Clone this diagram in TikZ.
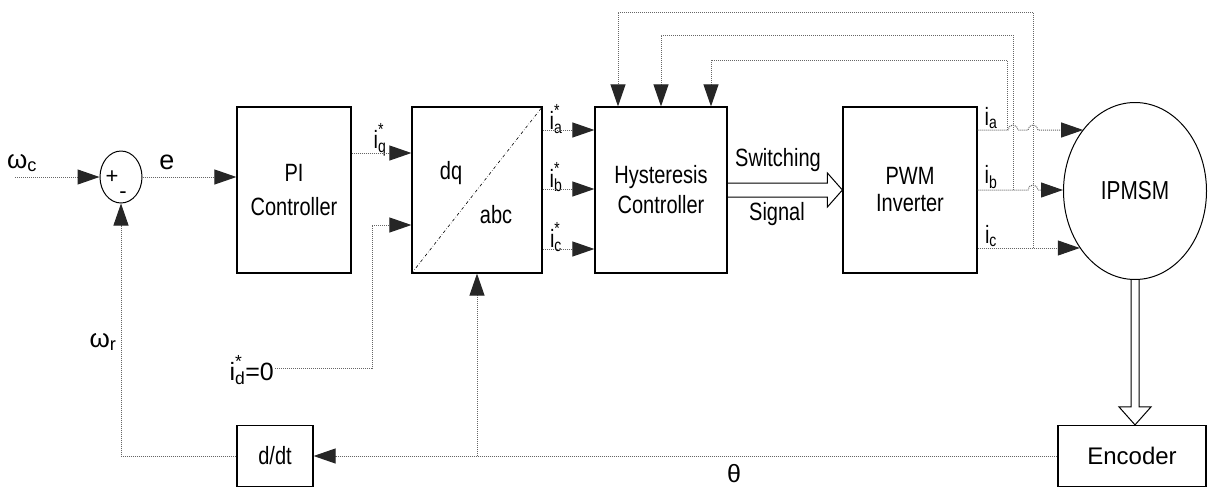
\documentclass[tikz,border=0pt]{standalone}
\usepackage{fontspec}
\setmainfont{Liberation Sans}
\newfontfamily\nar[FakeStretch=0.8]{Liberation Sans}
\usetikzlibrary{arrows.meta,shapes.geometric,calc}
\newcommand{\istar}[1]{i\rlap{\raisebox{4pt}{\textsuperscript{*}}}\textsubscript{#1}}
\begin{document}
\begin{tikzpicture}[x=1pt,y=-1pt,
  box/.style={draw,line width=1.2pt,align=center,inner sep=0pt},
  conn/.style={draw=black!60,line width=1pt,densely dotted,
    -{Triangle[length=22pt,width=15pt,color=black!85]}},
  lbl/.style={font=\fontsize{25}{28}\selectfont,inner sep=1pt},
  nlbl/.style={font=\nar\fontsize{25}{28}\selectfont,inner sep=1pt},
  hollow/.style={draw=black,line width=1pt,line join=miter}]
\useasboundingbox (0,0) rectangle (1208,488);

% blocks
\node[draw,ellipse,line width=1pt,minimum width=42pt,minimum height=52pt] (sum) at (121,177) {};
\node[font=\fontsize{22}{24}\selectfont,inner sep=0pt] (plus) at (112,177) {+};
\node[font=\fontsize{22}{24}\selectfont,inner sep=0pt] (minus) at (123,195) {-};
\node[box,minimum width=114pt,minimum height=166pt,font=\nar\fontsize{25}{34}\selectfont] (pi) at (294,190) {PI\\Controller};
\node[box,minimum width=130pt,minimum height=166pt] (dq) at (477,190) {};
\node[nlbl] (tdq) at (451,173) {dq};
\node[nlbl] (tabc) at (496,215) {abc};
\node[box,minimum width=132pt,minimum height=166pt,font=\nar\fontsize{25}{30}\selectfont] (hyst) at (661,190) {Hysteresis\\Controller};
\node[box,minimum width=134pt,minimum height=166pt,font=\nar\fontsize{25}{27}\selectfont] (pwm) at (910,190) {PWM\\Inverter};
\node[draw,ellipse,line width=1pt,minimum width=143pt,minimum height=177pt,inner sep=0pt,font=\nar\fontsize{26}{28}\selectfont] (motor) at (1135,191) {IPMSM};
\node[box,minimum width=148pt,minimum height=61pt,font=\fontsize{24}{28}\selectfont] (enc) at (1132,456) {Encoder};
\node[box,minimum width=76pt,minimum height=61pt,font=\nar\fontsize{25}{28}\selectfont] (ddt) at (275,456) {d/dt};

\draw[dash dot,line width=0.6pt] (dq.south west) -- (dq.north east);

% labels
\node[lbl,font=\fontsize{26}{28}\selectfont] (lwc) at (22,163) {ω\textsubscript{c}};
\node[lbl,font=\fontsize{27}{28}\selectfont] (le) at (167,162) {e};
\node[nlbl] (liq) at (380,140) {\istar{q}};
\node[nlbl] (lia) at (556,119) {\istar{a}};
\node[nlbl] (lib) at (556,177) {\istar{b}};
\node[nlbl] (lic) at (556,237) {\istar{c}};
\node[nlbl] (la) at (991,118) {i\textsubscript{a}};
\node[nlbl] (lb) at (991,177) {i\textsubscript{b}};
\node[nlbl] (lc) at (991,236) {i\textsubscript{c}};
\node[lbl,font=\fontsize{26}{28}\selectfont] (lwr) at (103,342) {ω\textsubscript{r}};
\node[lbl,anchor=east] (idl) at (275,370) {\istar{d}=0};
\node[lbl] (lth) at (734,474) {θ};
\node[nlbl] (lsw) at (778,160) {Switching};
\node[nlbl] (lsg) at (777,214) {Signal};

% connectors
\coordinate (win) at (15,177);
\draw[conn] (win) -- (sum.west);
\draw[conn] (sum.east) -- (sum.east -| pi.west);
\draw[conn] (pi.east |- 0,153) -- (dq.west |- 0,153);
\draw[conn] (idl.east |- 0,368) -| (372,225) -- (dq.west |- 0,225);
\foreach \yy in {130,189,249} \draw[conn] (dq.east |- 0,\yy) -- (hyst.west |- 0,\yy);

\draw[conn] (pwm.east |- 0,130) -- (1008,130) arc[start angle=180,end angle=0,radius=5pt]
  -- (1028,130) arc[start angle=180,end angle=0,radius=5pt] -- (motor.130 |- 0,130);
\draw[conn] (pwm.east |- 0,190) -- (1028,190) arc[start angle=180,end angle=0,radius=5pt]
  -- (motor.west |- 0,190);
\draw[conn] (pwm.east |- 0,248) -- (motor.226 |- 0,248);

\coordinate (fa) at (1007,130);
\coordinate (fb) at (1013,190);
\coordinate (fc) at (1033,248);
\draw[conn] (fa) |- (711,60) -- (hyst.north -| 711,0);
\draw[conn] (fb) |- (661,35) -- (hyst.north);
\draw[conn] (fc) |- (618,12) -- (hyst.north -| 618,0);

\draw[conn] (enc.west) -- (ddt.east);
\draw[conn] (dq.south |- enc.west) -- (dq.south);
\draw[conn] (ddt.west) -| (sum.south);

% hollow arrows
\draw[hollow] ($(hyst.east)+(0,-7)$) -- ($(pwm.west)+(-15,-7)$) -- ($(pwm.west)+(-15,-17)$)
  -- (pwm.west) -- ($(pwm.west)+(-15,17)$) -- ($(pwm.west)+(-15,7)$) -- ($(hyst.east)+(0,7)$);
\coordinate (mt) at (motor.south);
\coordinate (et) at (enc.north -| motor.south);
\draw[hollow] ($(mt)+(-4,0)$) -- ($(et)+(-4,-18)$) -- ($(et)+(-16,-18)$) -- (et)
  -- ($(et)+(16,-18)$) -- ($(et)+(4,-18)$) -- ($(mt)+(4,0)$);
\end{tikzpicture}
\end{document}
